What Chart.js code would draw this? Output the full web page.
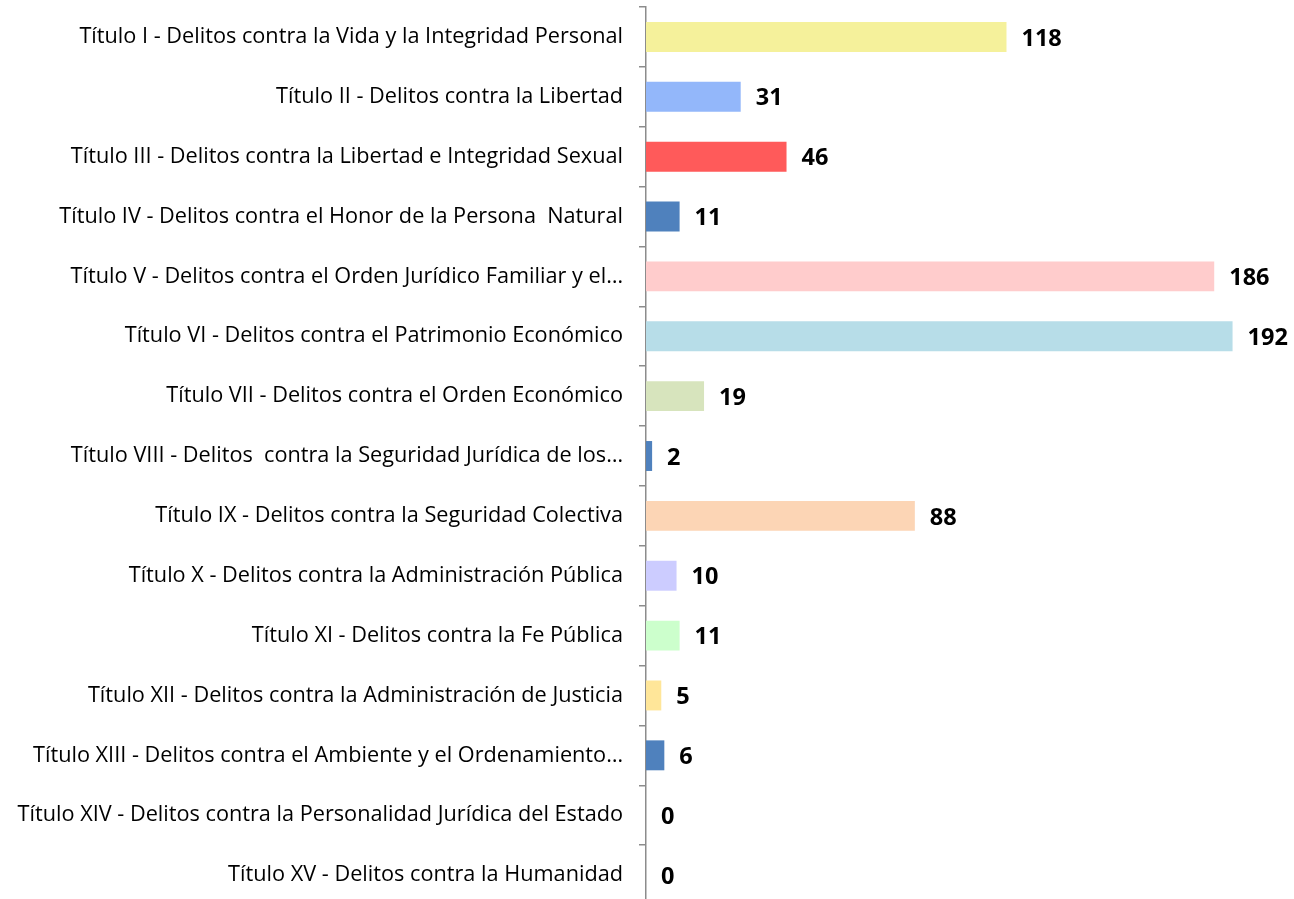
<!DOCTYPE html>
<html>
<head>
<meta charset="utf-8">
<script src="https://cdn.jsdelivr.net/npm/chart.js@4.4.0/dist/chart.umd.min.js"></script>
<style>
  html, body { margin: 0; padding: 0; background: #fff; overflow: hidden; }
</style>
</head>
<body>
<canvas id="myChart" width="1294" height="905"></canvas>
<script>
//---------- data ----------
const categories = [
  "Título I - Delitos contra la Vida y la Integridad Personal",
  "Título II - Delitos contra la Libertad",
  "Título III - Delitos contra la Libertad e Integridad Sexual",
  "Título IV - Delitos contra el Honor de la Persona  Natural",
  "Título V - Delitos contra el Orden Jurídico Familiar y el…",
  "Título VI - Delitos contra el Patrimonio Económico",
  "Título VII - Delitos contra el Orden Económico",
  "Título VIII - Delitos  contra la Seguridad Jurídica de los…",
  "Título IX - Delitos contra la Seguridad Colectiva",
  "Título X - Delitos contra la Administración Pública",
  "Título XI - Delitos contra la Fe Pública",
  "Título XII - Delitos contra la Administración de Justicia",
  "Título XIII - Delitos contra el Ambiente y el Ordenamiento…",
  "Título XIV - Delitos contra la Personalidad Jurídica del Estado",
  "Título XV - Delitos contra la Humanidad"
];
const values = [118, 31, 46, 11, 186, 192, 19, 2, 88, 10, 11, 5, 6, 0, 0];
const barColors = ['#F5F19B','#93B7FA','#FF5A5A','#4F81BD','#FFCCCC','#B7DDE8','#D7E4BD',
  '#4F81BD','#FCD5B5','#CCCCFF','#CCFFCC','#FFE699','#4F81BD','#4F81BD','#4F81BD'];

// draw the value next to each bar
const valueLabels = {
  id: 'valueLabels',
  afterDatasetsDraw(chart) {
    const ctx = chart.ctx;
    const meta = chart.getDatasetMeta(0);
    ctx.save();
    ctx.font = 'bold 23.5px "Open Sans", sans-serif';
    ctx.fillStyle = '#000';
    ctx.textAlign = 'left';
    ctx.textBaseline = 'middle';
    meta.data.forEach((bar, i) => {
      ctx.fillText(String(values[i]), bar.x + 15, bar.y + 2);
    });
    ctx.restore();
  }
};

const ctx = document.getElementById('myChart');
const chart = new Chart(ctx, {
  type: 'bar',
  data: {
    labels: categories,
    datasets: [{
      data: values,
      backgroundColor: barColors,
      borderWidth: 0,
      barPercentage: 0.5,
      categoryPercentage: 1
    }]
  },
  options: {
    indexAxis: 'y',
    responsive: false,
    animation: false,
    layout: { padding: { top: 7, right: 37, bottom: 0, left: 0 } },
    plugins: {
      legend: { display: false },
      tooltip: { enabled: false }
    },
    scales: {
      x: {
        display: false,
        min: 0,
        max: 200
      },
      y: {
        afterFit(scale) {
          scale.width = 646;
          scale.paddingTop = 0; // no extra room for half labels
          scale.paddingBottom = 0;
        },
        grid: {
          drawOnChartArea: false,
          drawTicks: true,
          tickLength: 7,
          color: '#8C8C8C',
          lineWidth: 1.5,
          offset: true
        },
        border: { display: true, color: '#8C8C8C', width: 1.5 },
        ticks: {
          color: '#000',
          padding: 16,
          autoSkip: false,
          font: { family: '"Open Sans", sans-serif', size: 21.7 }
        }
      }
    }
  },
  plugins: [valueLabels]
});
</script>
</body>
</html>
